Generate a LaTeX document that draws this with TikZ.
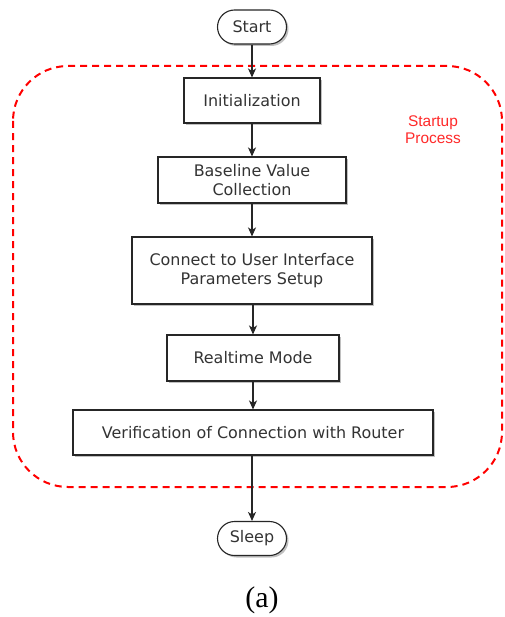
\documentclass[tikz,border=0pt]{standalone}
\usepackage{fontspec}
\setmainfont{DejaVu Sans}
\newfontfamily\labelfont{Liberation Sans}
\newfontfamily\captionfont{Liberation Serif}
\usetikzlibrary{arrows.meta,shadows}
\definecolor{txtgray}{HTML}{333333}
\definecolor{regionred}{HTML}{FF0000}
\definecolor{labelred}{HTML}{FF2A2A}
\begin{document}
\begin{tikzpicture}[x=1bp,y=-1bp,
  every node/.style={font=\fontsize{16}{18.5}\selectfont, text=txtgray, align=center, inner sep=0pt},
  stepbox/.style={draw=black!85, line width=1.1bp, fill=white,
    drop shadow={shadow xshift=2bp, shadow yshift=-2bp, fill=black!35, opacity=0.7}},
  terminal/.style={stepbox, minimum width=69bp, minimum height=34bp, rounded corners=17bp},
  flow/.style={draw=black!85, line width=1.2bp, -{Stealth[length=9bp,width=8bp,inset=2.5bp]}}
]
\useasboundingbox[fill=white] (0,0) rectangle (505,617);

% dashed frame around the startup steps
\draw[regionred, line width=2bp, dash pattern=on 7bp off 5bp, rounded corners=55bp]
  (13,66) rectangle (502,487);
\node[text=labelred, font=\labelfont\fontsize{15.5}{17}\selectfont] (lbl) at (433,130) {Startup\\Process};

% flow steps
\node[terminal] (start) at (252,27) {Start};
\node[stepbox, minimum width=136bp, minimum height=45bp] (init) at (252,100.5) {Initialization};
\node[stepbox, minimum width=188bp, minimum height=46bp] (base) at (252,180) {Baseline Value\\Collection};
\node[stepbox, minimum width=240bp, minimum height=67bp] (conn) at (252,270.5) {Connect to User Interface\\Parameters Setup};
\node[stepbox, minimum width=172bp, minimum height=46bp] (rt) at (253,358) {Realtime Mode};
\node[stepbox, minimum width=360bp, minimum height=45bp] (ver) at (253,432.5) {Verification of Connection with Router};
\node[terminal] (sleep) at (252,538.5) {Sleep};

% connectors
\draw[flow] (start) -- (init);
\draw[flow] (init) -- (base);
\draw[flow] (base) -- (conn);
\draw[flow] (conn.south -| rt.north) -- (rt);
\draw[flow] (rt) -- (ver);
\draw[flow] (ver.south -| sleep.north) -- (sleep);

% caption
\node[font=\captionfont\fontsize{30}{34}\selectfont, text=black] (cap) at (262,600) {(a)};
\end{tikzpicture}
\end{document}
